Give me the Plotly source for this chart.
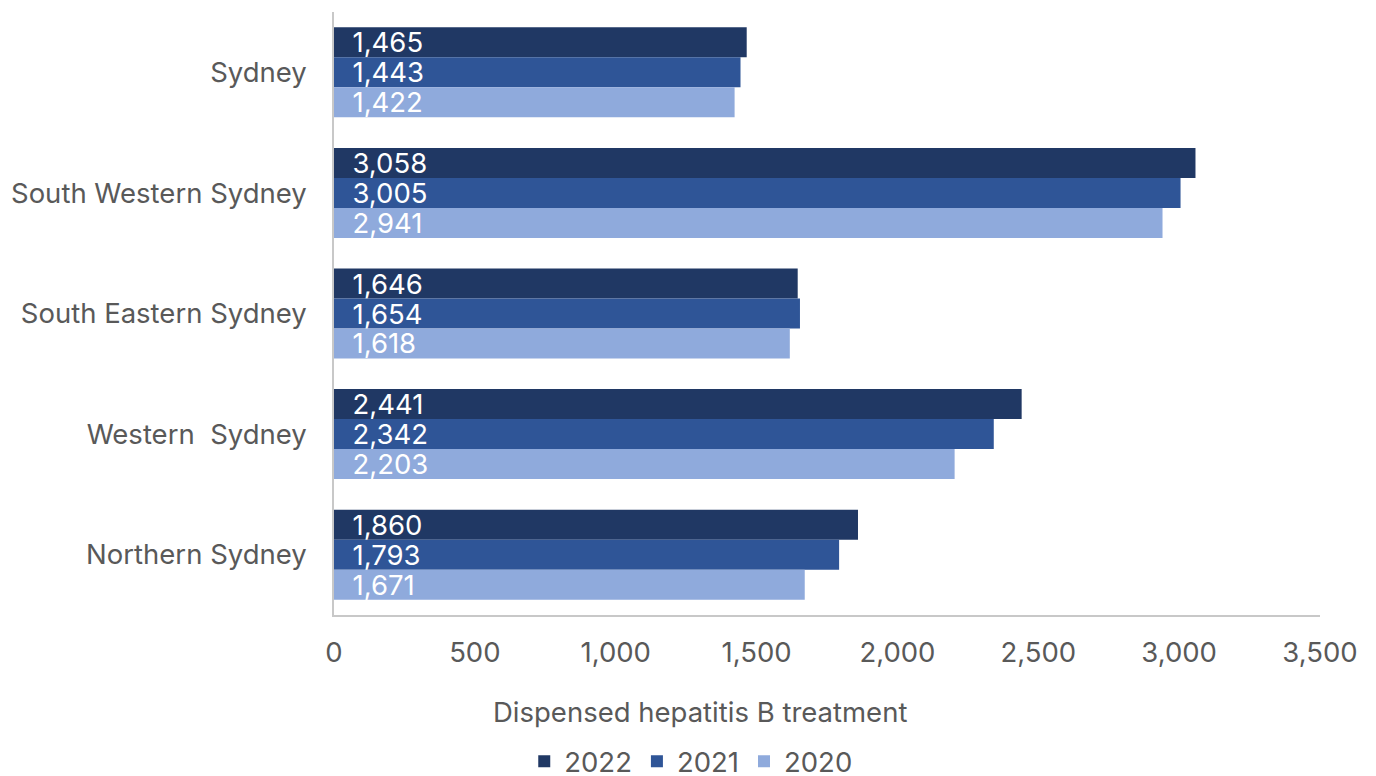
import plotly.graph_objects as go

# Local health districts, listed top to bottom
districts = ["Sydney", "South Western Sydney", "South Eastern Sydney",
             "Western  Sydney", "Northern Sydney"]

years = ["2022", "2021", "2020"]
counts_2022 = [1465, 3058, 1646, 2441, 1860]
counts_2021 = [1443, 3005, 1654, 2342, 1793]
counts_2020 = [1422, 2941, 1618, 2203, 1671]

x_ticks = [0, 500, 1000, 1500, 2000, 2500, 3000, 3500]
x_tick_labels = ["0", "500", "1,000", "1,500", "2,000", "2,500", "3,000", "3,500"]

colors = {"2022": "#203864", "2021": "#2F5597", "2020": "#8FAADC"}
series = {"2022": counts_2022, "2021": counts_2021, "2020": counts_2020}

FONT = "Inter"
GREY = "#595959"
SIZE = 27.5

fig = go.Figure()
for yr in years:
    fig.add_trace(go.Bar(
        y=districts,
        x=series[yr],
        name=yr,
        orientation="h",
        marker=dict(color=colors[yr], line=dict(width=0)),
        texttemplate="\u00a0\u00a0%{x:,}",
        textposition="inside",
        insidetextanchor="start",
        constraintext="none",
        textfont=dict(family=FONT, size=SIZE, color="white"),
        hoverinfo="skip",
    ))

fig.update_layout(
    width=1376, height=776,
    margin=dict(l=334, r=56, t=12, b=161),
    paper_bgcolor="white", plot_bgcolor="white",
    barmode="group", bargap=0.254, bargroupgap=0,
    font=dict(family=FONT, size=SIZE, color=GREY),
    showlegend=True,
    legend=dict(
        orientation="h", xref="container", yref="container",
        x=0.502, xanchor="center", y=0.019, yanchor="middle",
        font=dict(family=FONT, size=SIZE, color=GREY),
        itemwidth=30, traceorder="normal",
    ),
    xaxis=dict(
        range=[0, 3500], tickvals=x_ticks, ticktext=x_tick_labels,
        showgrid=False, zeroline=False,
        showline=True, linecolor="#C8C8C8", linewidth=1.5,
        ticks="", ticklabelstandoff=12,
        tickfont=dict(family=FONT, size=SIZE, color=GREY),
    ),
    yaxis=dict(
        autorange="reversed", showgrid=False, zeroline=False,
        showline=True, linecolor="#C8C8C8", linewidth=1.5,
        ticks="", ticklabelstandoff=20,
        tickfont=dict(family=FONT, size=SIZE, color=GREY),
    ),
    annotations=[dict(
        text="Dispensed hepatitis B treatment",
        xref="paper", yref="paper", x=0.371, y=-0.161,
        xanchor="center", yanchor="middle", showarrow=False,
        font=dict(family=FONT, size=SIZE, color=GREY),
    )],
)

fig.write_html("out.html")
